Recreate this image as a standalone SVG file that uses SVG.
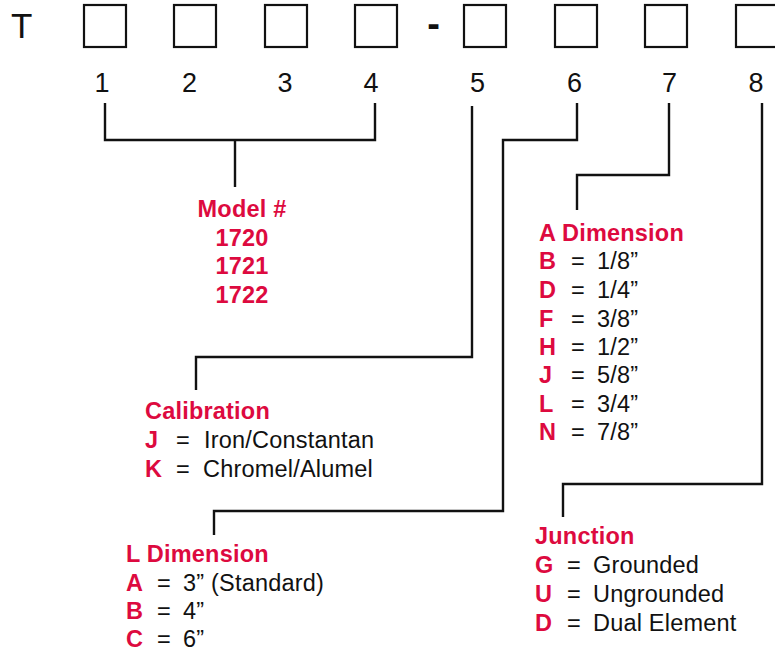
<svg xmlns="http://www.w3.org/2000/svg" width="775" height="655" viewBox="0 0 775 655">
<style>
.box{fill:none;stroke:#111;stroke-width:2.2}
.ln{fill:none;stroke:#111;stroke-width:2.4}
.num{font-family:"Liberation Sans",Arial,sans-serif;font-size:27px;fill:#111;text-anchor:middle}
.hd{font-family:"Liberation Sans",Arial,sans-serif;font-size:23.5px;font-weight:bold;fill:#DD0A3F;letter-spacing:0.2px}
.k{font-family:"Liberation Sans",Arial,sans-serif;font-size:23.5px;font-weight:bold;fill:#DD0A3F}
.v{font-family:"Liberation Sans",Arial,sans-serif;font-size:23.5px;fill:#111;letter-spacing:0.2px}
</style>
<rect width="775" height="655" fill="#fff"/>
<g id="prefix">
<text x="11" y="38" font-family="Liberation Sans,Arial,sans-serif" font-size="35" fill="#111">T</text>
<text x="433.5" y="37" font-family="Liberation Sans,Arial,sans-serif" font-size="38" font-weight="bold" fill="#111" text-anchor="middle">-</text>
</g>
<g id="pos1"><rect class="box" x="84" y="5" width="42" height="42"/><text class="num" x="102" y="92">1</text></g>
<g id="pos2"><rect class="box" x="174" y="5" width="42" height="42"/><text class="num" x="189.5" y="92">2</text></g>
<g id="pos3"><rect class="box" x="265" y="5" width="42" height="42"/><text class="num" x="285" y="92">3</text></g>
<g id="pos4"><rect class="box" x="355" y="5" width="42" height="42"/><text class="num" x="371" y="92">4</text></g>
<g id="pos5"><rect class="box" x="464" y="5" width="42" height="42"/><text class="num" x="477.5" y="92">5</text></g>
<g id="pos6"><rect class="box" x="555" y="5" width="42" height="42"/><text class="num" x="574.5" y="92">6</text></g>
<g id="pos7"><rect class="box" x="645" y="5" width="42" height="42"/><text class="num" x="669.5" y="92">7</text></g>
<g id="pos8"><rect class="box" x="736" y="5" width="42" height="42"/><text class="num" x="756" y="92">8</text></g>
<g id="connectors">
<path class="ln" d="M105,103 V140 H375 V103 M235,140 V187"/>
<path class="ln" d="M472,106 V357 H196 V390"/>
<path class="ln" d="M577,103 V140 H503 V511 H214 V535"/>
<path class="ln" d="M669,103 V175 H577 V210"/>
<path class="ln" d="M762,103 V484 H563 V517"/>
</g>
<g id="model">
<text class="hd" x="242" y="217" text-anchor="middle">Model #</text>
<text class="hd" x="242" y="246" text-anchor="middle">1720</text>
<text class="hd" x="242" y="274" text-anchor="middle">1721</text>
<text class="hd" x="242" y="303" text-anchor="middle">1722</text>
</g>
<g id="a-dimension">
<text class="hd" x="539" y="241">A Dimension</text>
<text class="k" x="539" y="269">B</text><text class="v" x="571" y="269">=</text><text class="v" x="597" y="269">1/8”</text>
<text class="k" x="539" y="298">D</text><text class="v" x="571" y="298">=</text><text class="v" x="597" y="298">1/4”</text>
<text class="k" x="539" y="327">F</text><text class="v" x="571" y="327">=</text><text class="v" x="597" y="327">3/8”</text>
<text class="k" x="539" y="355">H</text><text class="v" x="571" y="355">=</text><text class="v" x="597" y="355">1/2”</text>
<text class="k" x="539" y="383">J</text><text class="v" x="571" y="383">=</text><text class="v" x="597" y="383">5/8”</text>
<text class="k" x="539" y="412">L</text><text class="v" x="571" y="412">=</text><text class="v" x="597" y="412">3/4”</text>
<text class="k" x="539" y="440">N</text><text class="v" x="571" y="440">=</text><text class="v" x="597" y="440">7/8”</text>
</g>
<g id="calibration">
<text class="hd" x="145" y="419">Calibration</text>
<text class="k" x="145" y="448">J</text><text class="v" x="176" y="448">=</text><text class="v" x="204" y="448">Iron/Constantan</text>
<text class="k" x="145" y="477">K</text><text class="v" x="176" y="477">=</text><text class="v" x="203" y="477">Chromel/Alumel</text>
</g>
<g id="l-dimension">
<text class="hd" x="126" y="562">L Dimension</text>
<text class="k" x="126" y="591">A</text><text class="v" x="157" y="591">=</text><text class="v" x="183" y="591">3” (Standard)</text>
<text class="k" x="126" y="619">B</text><text class="v" x="157" y="619">=</text><text class="v" x="183" y="619">4”</text>
<text class="k" x="126" y="647">C</text><text class="v" x="157" y="647">=</text><text class="v" x="183" y="647">6”</text>
</g>
<g id="junction">
<text class="hd" x="535" y="544">Junction</text>
<text class="k" x="535" y="573">G</text><text class="v" x="567" y="573">=</text><text class="v" x="593" y="573">Grounded</text>
<text class="k" x="535" y="602">U</text><text class="v" x="567" y="602">=</text><text class="v" x="593" y="602">Ungrounded</text>
<text class="k" x="535" y="631">D</text><text class="v" x="567" y="631">=</text><text class="v" x="593" y="631">Dual Element</text>
</g>
</svg>
